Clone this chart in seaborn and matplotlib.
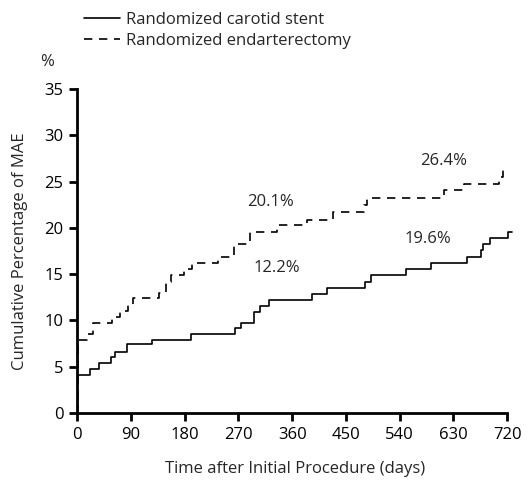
import matplotlib
matplotlib.use("Agg")
import matplotlib.pyplot as plt
import seaborn as sns
import pandas as pd

# ---- data ----
stent_days = [0, 22, 37, 57, 64, 84, 125, 190, 265, 274, 296, 306, 321, 394, 419,
              482, 492, 550, 593, 652, 676, 680, 691, 722, 728]
stent_pct = [4.1, 4.75, 5.4, 6.0, 6.6, 7.45, 7.85, 8.5, 9.15, 9.75, 10.9, 11.6, 12.25,
             12.85, 13.5, 14.2, 14.9, 15.6, 16.2, 16.9, 17.6, 18.25, 18.9, 19.6, 19.6]
endart_days = [0, 2, 16, 27, 59, 72, 85, 93, 137, 148, 157, 179, 192, 236, 262, 290,
               334, 385, 428, 480, 486, 615, 648, 707, 713, 716]
endart_pct = [0, 7.9, 8.5, 9.75, 10.4, 11.05, 11.7, 12.4, 13.0, 14.2, 14.9, 15.6, 16.2,
              16.9, 18.3, 19.6, 20.3, 20.9, 21.7, 22.5, 23.25, 24.1, 24.7, 25.5, 26.4, 26.4]
series_names = ["Randomized carotid stent", "Randomized endarterectomy"]
x_ticks = [0, 90, 180, 270, 360, 450, 540, 630, 720]
y_ticks = [0, 5, 10, 15, 20, 25, 30, 35]
annot_text = ["20.1%", "12.2%", "19.6%", "26.4%"]
annot_x = [324, 334, 587, 614]
annot_y = [22.8, 15.7, 18.8, 27.2]

sns.set_theme(style="white")
plt.rcParams["font.family"] = ["Open Sans", "DejaVu Sans"]
FS = 12

df = pd.concat([
    pd.DataFrame({"day": stent_days, "pct": stent_pct, "group": series_names[0]}),
    pd.DataFrame({"day": endart_days, "pct": endart_pct, "group": series_names[1]}),
])

fig = plt.figure(figsize=(5.29, 4.84), dpi=100)
ax = fig.add_axes([0.146, 0.1467, 0.824, 0.669])

sns.lineplot(data=df, x="day", y="pct", hue="group", style="group",
             palette=["black", "black"],
             dashes={series_names[0]: "", series_names[1]: (5, 4)},
             drawstyle="steps-post", linewidth=1.2, estimator=None, sort=False,
             ax=ax, legend=True)

ax.set_xlim(0, 730)
ax.set_ylim(0, 35)
ax.spines["left"].set_bounds(0, 35)
ax.spines["bottom"].set_bounds(0, 720)
for s in ["top", "right"]:
    ax.spines[s].set_visible(False)
for s in ["left", "bottom"]:
    ax.spines[s].set_linewidth(2)
    ax.spines[s].set_color("black")
ax.set_xticks(x_ticks)
ax.set_yticks(y_ticks)
ax.tick_params(axis="both", direction="out", length=6, width=2, colors="black",
               labelsize=FS, pad=4, left=True, bottom=True)
ax.set_xlabel("Time after Initial Procedure (days)", fontsize=FS, labelpad=13)
ax.set_ylabel("Cumulative Percentage of MAE", fontsize=FS, labelpad=12)
ax.text(-0.069, 1.083, "%", transform=ax.transAxes, fontsize=FS, ha="center", va="center")

for t, x, y in zip(annot_text, annot_x, annot_y):
    ax.text(x, y, t, fontsize=FS, ha="center", va="center")

h, l = ax.get_legend_handles_labels()
ax.get_legend().remove()
fig.legend(h, l, loc="upper left", bbox_to_anchor=(0.146, 0.99), frameon=False,
           fontsize=FS, handlelength=2.15, handletextpad=0.36, labelspacing=0.3,
           borderaxespad=0.0)

fig.savefig("out.png", dpi=100)
